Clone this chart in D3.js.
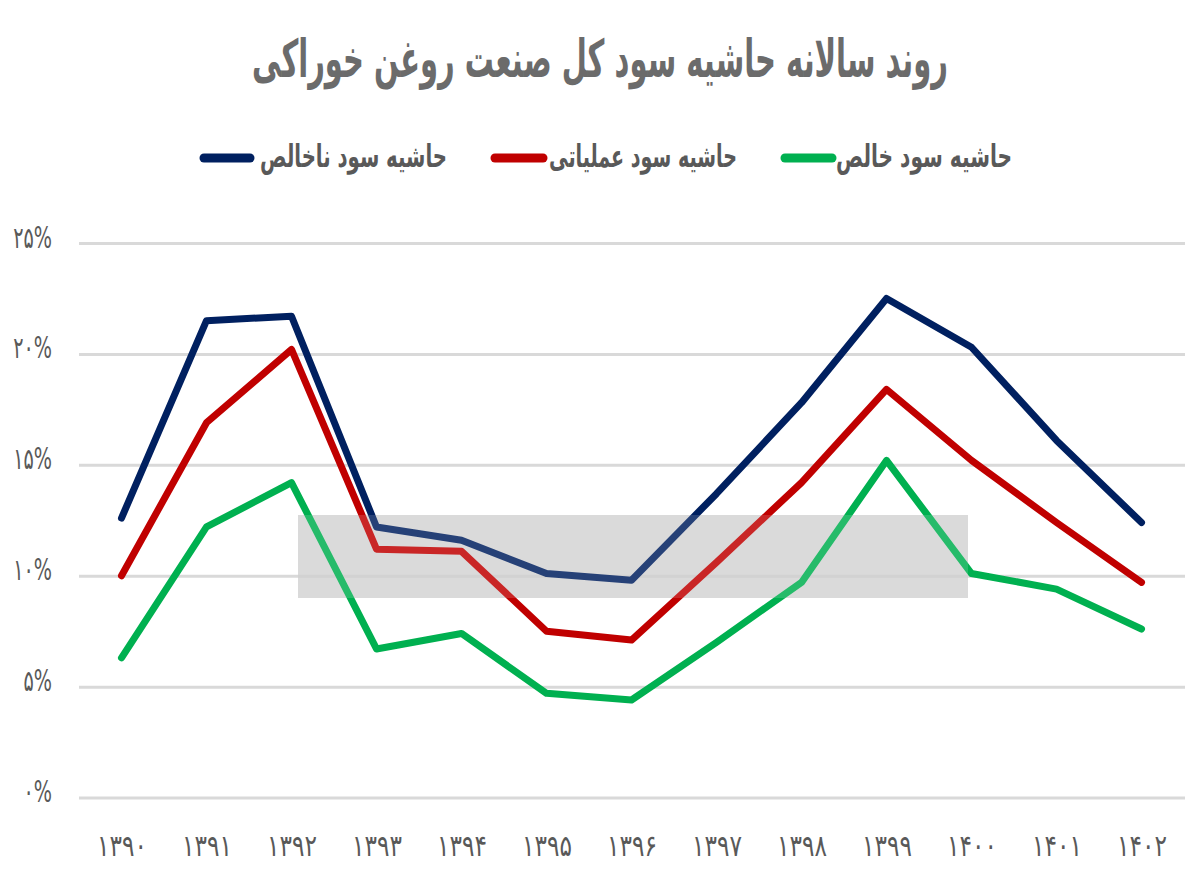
<!DOCTYPE html>
<html>
<head>
<meta charset="utf-8">
<script src="https://cdn.jsdelivr.net/npm/d3@7"></script>
<style>
  html, body { margin: 0; padding: 0; background: #ffffff; }
  svg { display: block; }
  text { font-family: "DejaVu Sans", "Noto Sans", sans-serif; }
</style>
</head>
<body>
<svg id="chart" width="1200" height="878"></svg>
<script>
// ---- data ----
const titleText = "روند سالانه حاشیه سود کل صنعت روغن خوراکی";
const years = ["۱۳۹۰","۱۳۹۱","۱۳۹۲","۱۳۹۳","۱۳۹۴","۱۳۹۵","۱۳۹۶","۱۳۹۷","۱۳۹۸","۱۳۹۹","۱۴۰۰","۱۴۰۱","۱۴۰۲"];
const seriesNames = ["حاشیه سود ناخالص", "حاشیه سود عملیاتی", "حاشیه سود خالص"];
const grossMargin     = [12.6, 21.5, 21.7, 12.2, 11.6, 10.1, 9.8, 13.7, 17.8, 22.5, 20.3, 16.1, 12.4];
const operatingMargin = [10.0, 16.9, 20.2, 11.2, 11.1, 7.5, 7.1, 10.6, 14.2, 18.4, 15.2, 12.4, 9.7];
const netMargin       = [6.3, 12.2, 14.2, 6.7, 7.4, 4.7, 4.4, 7.0, 9.7, 15.2, 10.1, 9.4, 7.6];
const yTickValues = [0, 5, 10, 15, 20, 25];
const yTickLabels = ["۰%", "۵%", "۱۰%", "۱۵%", "۲۰%", "۲۵%"];
const colors = ["#002060", "#C00000", "#00B050"];

// ---- layout ----
const svg = d3.select("#chart");
const gridLeft = 79, gridRight = 1185;
const x = d3.scalePoint().domain(years).range([121.5, 1141.5]);
const y = d3.scaleLinear().domain([0, 25]).range([797.6, 243]);

// title (horizontally condensed to the reference width)
const title = svg.append("text")
  .attr("x", 0).attr("y", 0)
  .attr("text-anchor", "middle")
  .attr("font-size", 52).attr("font-weight", "bold")
  .attr("fill", "#6b6b6b")
  .text(titleText);
const tw = title.node().getComputedTextLength();
title.attr("transform", `translate(600,77) scale(${696 / tw},1)`);

// legend
const legendItems = [
  { name: seriesNames[0], color: colors[0], sw: [200, 254], textRight: 447, textLen: 187 },
  { name: seriesNames[1], color: colors[1], sw: [491, 547], textRight: 737, textLen: 188 },
  { name: seriesNames[2], color: colors[2], sw: [781, 836], textRight: 1012, textLen: 176 }
];
const lg = svg.append("g");
legendItems.forEach(d => {
  lg.append("line")
    .attr("x1", d.sw[0] + 4).attr("x2", d.sw[1] - 4)
    .attr("y1", 158).attr("y2", 158)
    .attr("stroke", d.color).attr("stroke-width", 9)
    .attr("stroke-linecap", "round");
  const t = lg.append("text")
    .attr("x", 0).attr("y", 0)
    .attr("text-anchor", "end")
    .attr("font-size", 31).attr("font-weight", "bold")
    .attr("fill", "#595959")
    .text(d.name);
  const w = t.node().getComputedTextLength();
  t.attr("transform", `translate(${d.textRight},167) scale(${d.textLen / w},1)`);
});

// y grid + labels
const yAxis = d3.axisLeft(y)
  .tickValues(yTickValues)
  .tickFormat((d, i) => yTickLabels[i])
  .tickSize(-(gridRight - gridLeft))
  .tickPadding(27);
const yg = svg.append("g")
  .attr("transform", `translate(${gridLeft},0)`)
  .call(yAxis);
yg.select(".domain").remove();
yg.selectAll(".tick line").attr("stroke", "#d9d9d9").attr("stroke-width", 3);
yg.selectAll(".tick text")
  .attr("font-size", 30).attr("font-weight", "normal")
  .attr("fill", "#595959")
  .attr("dy", null).attr("y", 4)
  .style("font-family", "'DejaVu Sans', sans-serif")
  .each(function() {
    const w = this.getComputedTextLength();
    d3.select(this).attr("textLength", w * 0.64).attr("lengthAdjust", "spacingAndGlyphs");
  });

// watermark band (under the lines)
svg.append("rect")
  .attr("x", 298).attr("y", 515)
  .attr("width", 670).attr("height", 83)
  .attr("fill", "#c4c4c4").attr("opacity", 0.72);

// x labels
const xAxis = d3.axisBottom(x).tickSize(0).tickPadding(0);
const xg = svg.append("g")
  .attr("transform", `translate(0,${y(0)})`)
  .call(xAxis);
xg.select(".domain").remove();
xg.selectAll(".tick text")
  .attr("font-size", 30).attr("font-weight", "normal")
  .attr("fill", "#595959")
  .attr("dy", null).attr("y", 58)
  .attr("textLength", 50).attr("lengthAdjust", "spacingAndGlyphs")
  .style("font-family", "'DejaVu Sans', sans-serif");

// lines
const lineGen = d3.line()
  .x((d, i) => x(years[i]))
  .y(d => y(d));
[grossMargin, operatingMargin, netMargin].forEach((s, k) => {
  svg.append("path")
    .datum(s)
    .attr("d", lineGen)
    .attr("fill", "none")
    .attr("stroke", colors[k])
    .attr("stroke-width", 7)
    .attr("stroke-linecap", "round")
    .attr("stroke-linejoin", "round");
});

// light veil of the watermark over the lines
svg.append("rect")
  .attr("x", 298).attr("y", 515)
  .attr("width", 670).attr("height", 83)
  .attr("fill", "#ffffff").attr("opacity", 0.15);
</script>
</body>
</html>
